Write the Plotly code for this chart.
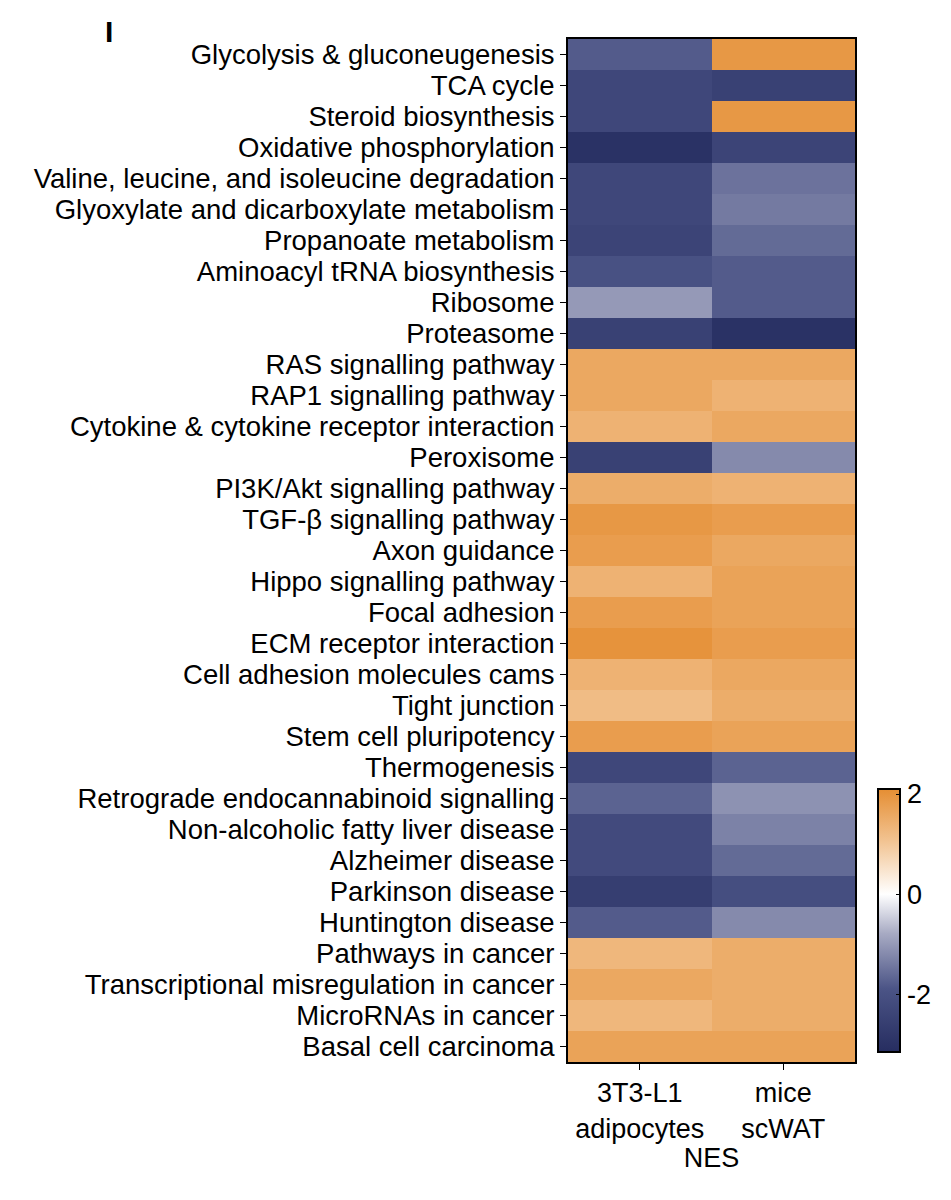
import plotly.graph_objects as go

pathways = [
    "Glycolysis & gluconeugenesis", "TCA cycle", "Steroid biosynthesis",
    "Oxidative phosphorylation", "Valine, leucine, and isoleucine degradation",
    "Glyoxylate and dicarboxylate metabolism", "Propanoate metabolism",
    "Aminoacyl tRNA biosynthesis", "Ribosome", "Proteasome",
    "RAS signalling pathway", "RAP1 signalling pathway",
    "Cytokine & cytokine receptor interaction", "Peroxisome",
    "PI3K/Akt signalling pathway", "TGF-β signalling pathway", "Axon guidance",
    "Hippo signalling pathway", "Focal adhesion", "ECM receptor interaction",
    "Cell adhesion molecules cams", "Tight junction", "Stem cell pluripotency",
    "Thermogenesis", "Retrograde endocannabinoid signalling",
    "Non-alcoholic fatty liver disease", "Alzheimer disease",
    "Parkinson disease", "Huntington disease", "Pathways in cancer",
    "Transcriptional misregulation in cancer", "MicroRNAs in cancer",
    "Basal cell carcinoma",
]
samples = ["3T3-L1<br>adipocytes", "mice<br>scWAT"]

nes_3t3 = [-1.8, -2.3, -2.3, -3.0, -2.3, -2.3, -2.4, -2.0, -1.0, -2.5,
           1.6, 1.6, 1.4, -2.5, 1.5, 1.9, 1.8, 1.4, 1.8, 2.0, 1.4, 1.2, 1.8,
           -2.3, -1.7, -2.2, -2.2, -2.6, -1.8, 1.3, 1.6, 1.3, 1.7]
nes_mice = [1.9, -2.5, 1.9, -2.4, -1.5, -1.4, -1.6, -1.8, -1.8, -3.0,
            1.6, 1.4, 1.6, -1.2, 1.4, 1.8, 1.6, 1.7, 1.7, 1.8, 1.6, 1.5, 1.7,
            -1.7, -1.1, -1.3, -1.6, -2.1, -1.2, 1.5, 1.5, 1.5, 1.7]

zmin, zmax = -3.15, 2.1
mid = -zmin / (zmax - zmin)
colorscale = [[0, "#262d60"], [mid * 0.4, "#4b5486"], [mid * 0.75, "#a7aac3"],
              [mid, "#ffffff"], [mid + (1 - mid) * 0.5, "#f2c493"],
              [1, "#e58e33"]]

z = [[a, b] for a, b in zip(nes_3t3, nes_mice)]

fig = go.Figure(go.Heatmap(
    z=z, x=samples, y=pathways, zmin=zmin, zmax=zmax, colorscale=colorscale,
    colorbar=dict(x=1.044, xanchor="left", y=0, yanchor="bottom", len=0.277,
                  lenmode="fraction", thickness=22, outlinecolor="black",
                  outlinewidth=2, tickvals=[-2, 0, 2],
                  ticktext=["-2", "0", "2"], ticks="inside",
                  ticklen=5, tickcolor="black", tickfont=dict(size=27)),
))

fig.update_layout(
    width=951, height=1200,
    margin=dict(l=560, r=98, t=31, b=146),
    plot_bgcolor="white", paper_bgcolor="white",
    font=dict(family="Liberation Sans, Arial", size=22, color="black"),
    xaxis=dict(showline=True, linecolor="black", linewidth=2, mirror=True,
               ticks="outside", ticklen=6, tickcolor="black",
               tickfont=dict(size=27),
               title=dict(text="NES", font=dict(size=27), standoff=0)),
    yaxis=dict(autorange="reversed", showline=True, linecolor="black",
               linewidth=2, mirror=True, ticks="outside", ticklen=6,
               tickcolor="black", tickfont=dict(size=27.5),
               tickmode="array", tickvals=pathways, ticktext=pathways),
)
fig.add_annotation(text="<b>I</b>", x=-1.62, y=1.025, xref="paper", yref="paper",
                   xanchor="left", yanchor="top", showarrow=False,
                   font=dict(size=30))
fig.write_html("out.html")
